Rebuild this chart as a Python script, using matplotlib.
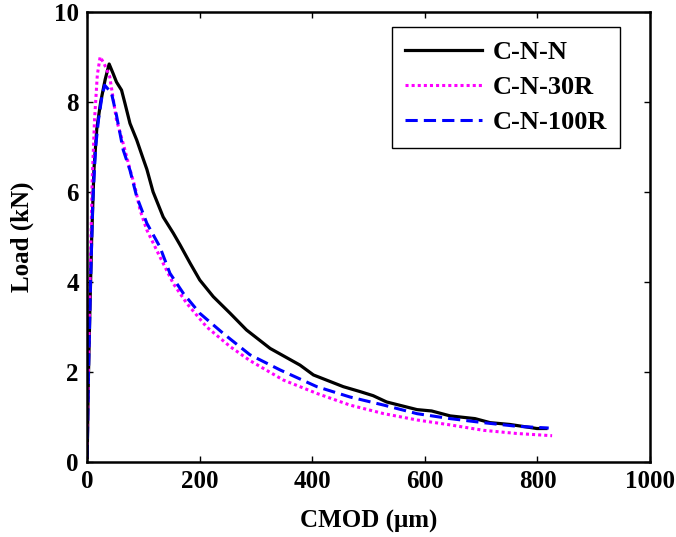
import numpy as np
import matplotlib.pyplot as plt

# load vs CMOD curves for the three mixes
cmod_nn = [0, 2, 5, 8, 12, 17, 24, 32, 39, 46, 52, 61, 67, 76, 88, 99, 106, 117, 135, 153,
           165, 183, 200, 224, 254, 283, 325, 378, 402, 455, 485, 508, 532, 586, 612, 645,
           689, 716, 751, 799, 815]
load_nn = [0.1, 1.8, 3.5, 5.0, 6.5, 7.4, 8.0, 8.5, 8.84, 8.63, 8.44, 8.26, 7.97, 7.52,
           7.15, 6.75, 6.5, 6.0, 5.44, 5.08, 4.82, 4.41, 4.04, 3.67, 3.3, 2.93, 2.52, 2.15,
           1.93, 1.67, 1.56, 1.47, 1.33, 1.16, 1.13, 1.02, 0.96, 0.87, 0.83, 0.74, 0.74]

cmod_30r = [0, 2, 5, 9, 13, 18, 23, 30, 40, 52, 64, 76, 85, 94, 106, 129, 153, 177, 212,
            254, 289, 307, 348, 408, 467, 527, 586, 645, 704, 763, 826]
load_30r = [0.1, 2.0, 4.0, 6.3, 7.6, 8.6, 9.0, 8.85, 8.56, 7.6, 7.07, 6.5, 6.1, 5.59, 5.15,
            4.56, 3.96, 3.52, 3.0, 2.56, 2.25, 2.12, 1.82, 1.52, 1.26, 1.07, 0.93, 0.82,
            0.70, 0.63, 0.58]

cmod_100r = [0, 2, 6, 10, 15, 20, 26, 31, 43, 52, 64, 76, 88, 106, 129, 147, 171, 200,
             242, 289, 343, 408, 467, 527, 586, 645, 704, 763, 820]
load_100r = [0.1, 1.8, 4.0, 5.8, 7.0, 7.6, 8.1, 8.37, 8.2, 7.7, 6.93, 6.48, 5.89, 5.3,
             4.78, 4.19, 3.74, 3.3, 2.85, 2.38, 2.04, 1.67, 1.44, 1.26, 1.07, 0.96, 0.87,
             0.79, 0.75]

plt.rcParams['font.family'] = 'Liberation Serif'
plt.rcParams['font.weight'] = 'bold'
plt.rcParams['font.size'] = 18

fig = plt.figure(figsize=(6.76, 5.37), dpi=100)
ax = fig.add_axes([0.129, 0.140, 0.8326, 0.838])

ax.plot(cmod_nn, load_nn, color='black', lw=2.3, label='C-N-N')
ax.plot(cmod_30r, load_30r, color='#ff00ff', lw=2.2, linestyle=(0, (1, 1)), label='C-N-30R')
ax.plot(cmod_100r, load_100r, color='#0000ff', lw=2.2, linestyle=(0, (4, 2)), label='C-N-100R')

ax.set_xlim(0, 1000)
ax.set_ylim(0, 10)
ax.set_xticks(np.arange(0, 1001, 200))
ax.set_yticks(np.arange(0, 11, 2))
ax.tick_params(direction='in', top=True, right=True, length=4, width=1, pad=6)
for s in ax.spines.values():
    s.set_linewidth(1.8)
for lab in ax.get_xticklabels() + ax.get_yticklabels():
    lab.set_fontweight('bold')

ax.set_xlabel('CMOD (μm)', fontweight='bold', labelpad=12)
ax.set_ylabel('Load (kN)', fontweight='bold', labelpad=14)

leg = ax.legend(loc='upper right', bbox_to_anchor=(0.9467, 0.966), borderaxespad=0,
                fancybox=False, edgecolor='black', framealpha=1,
                handlelength=2.9, handletextpad=0.4, labelspacing=0.45, borderpad=0.5,
                prop={'family': 'Liberation Serif', 'weight': 'bold', 'size': 19})
leg.get_frame().set_linewidth(1.0)

fig.savefig('out.png', dpi=100)
